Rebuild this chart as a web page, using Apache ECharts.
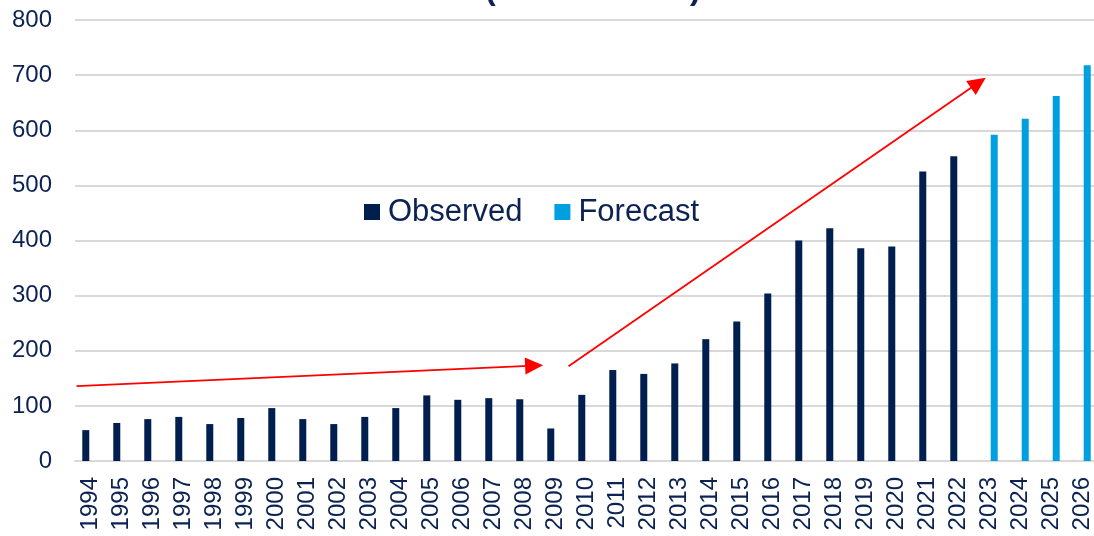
<!DOCTYPE html>
<html>
<head>
<meta charset="utf-8">
<script src="https://cdn.jsdelivr.net/npm/echarts@6/dist/echarts.min.js"></script>
<style>
  html, body { margin: 0; padding: 0; background: #ffffff; overflow: hidden; }
  /* the plot area runs a few pixels past the right edge of the window */
  #chart { width: 1098px; height: 536px; }
</style>
</head>
<body>
<div id="chart"></div>
<script>
// Yearly totals: observed history and forecast years
const years = ['1994','1995','1996','1997','1998','1999','2000','2001','2002','2003','2004',
  '2005','2006','2007','2008','2009','2010','2011','2012','2013','2014','2015','2016',
  '2017','2018','2019','2020','2021','2022','2023','2024','2025','2026'];

const observed = [56, 69, 76, 80, 67, 78, 96, 76, 67, 80, 96,
  119, 111, 114, 112, 59, 120, 165, 158, 177, 221, 253, 304,
  400, 422, 386, 389, 525, 553, null, null, null, null];

const forecast = [null, null, null, null, null, null, null, null, null, null, null,
  null, null, null, null, null, null, null, null, null, null, null, null,
  null, null, null, null, null, null, 592, 621, 662, 718];

const yTicks = { min: 0, max: 800, step: 100 };

// Trend arrows in data units: [year position, value] start and end
const trendBefore = [[-0.45, 136], [14.31, 173]];
const trendAfter = [[15.42, 172], [28.64, 686]];

const navy = '#0b2252';
const observedColor = '#001e4e';
const forecastColor = '#009fe0';
const gridColor = '#d9d9d9';
const font = 'Liberation Sans, Arial, sans-serif';

const chart = echarts.init(document.getElementById('chart'), null, { renderer: 'canvas' });

chart.setOption({
  animation: false,
  backgroundColor: '#ffffff',
  textStyle: { fontFamily: font },
  graphic: [
    { type: 'text', left: 485, top: -26, style: { text: '(', font: 'bold 32px ' + font, fill: navy } },
    { type: 'text', left: 690, top: -26, style: { text: ')', font: 'bold 32px ' + font, fill: navy } }
  ],
  legend: {
    data: ['Observed', 'Forecast'],
    left: 364,
    top: 196,
    padding: 0,
    icon: 'rect',
    itemWidth: 16,
    itemHeight: 16,
    itemGap: 32,
    selectedMode: false,
    textStyle: { fontSize: 31, color: navy, fontFamily: font, lineHeight: 32, padding: [0, 0, 0, 3] }
  },
  grid: { left: 75, top: 20, right: 0, bottom: 75, containLabel: false },
  xAxis: [
    {
      type: 'category',
      data: years,
      axisLine: { show: true, lineStyle: { color: gridColor, width: 2 } },
      axisTick: { show: false },
      axisLabel: { rotate: 90, interval: 0, fontSize: 24, color: navy, margin: 16, fontFamily: font }
    },
    { type: 'value', min: -0.5, max: 32.5, show: false }
  ],
  yAxis: {
    type: 'value',
    min: yTicks.min,
    max: yTicks.max,
    interval: yTicks.step,
    axisLine: { show: false },
    axisTick: { show: false },
    axisLabel: { fontSize: 24, color: navy, margin: 23, fontFamily: font },
    splitLine: { lineStyle: { color: gridColor, width: 2 } }
  },
  series: [
    {
      name: 'Observed',
      type: 'bar',
      data: observed,
      barWidth: 7,
      barGap: '35%',
      itemStyle: { color: observedColor }
    },
    {
      name: 'Forecast',
      type: 'bar',
      data: forecast,
      barWidth: 7,
      barGap: '35%',
      itemStyle: { color: forecastColor }
    },
    {
      name: 'trend',
      type: 'line',
      xAxisIndex: 1,
      data: [],
      silent: true,
      markLine: {
        silent: true,
        symbol: ['none', 'triangle'],
        symbolSize: [17, 18],
        label: { show: false },
        lineStyle: { color: '#ff0000', width: 1.8, type: 'solid' },
        itemStyle: { color: '#ff0000' },
        emphasis: { disabled: true },
        data: [
          [{ coord: trendBefore[0] }, { coord: trendBefore[1] }],
          [{ coord: trendAfter[0] }, { coord: trendAfter[1] }]
        ]
      }
    }
  ]
});
</script>
</body>
</html>
